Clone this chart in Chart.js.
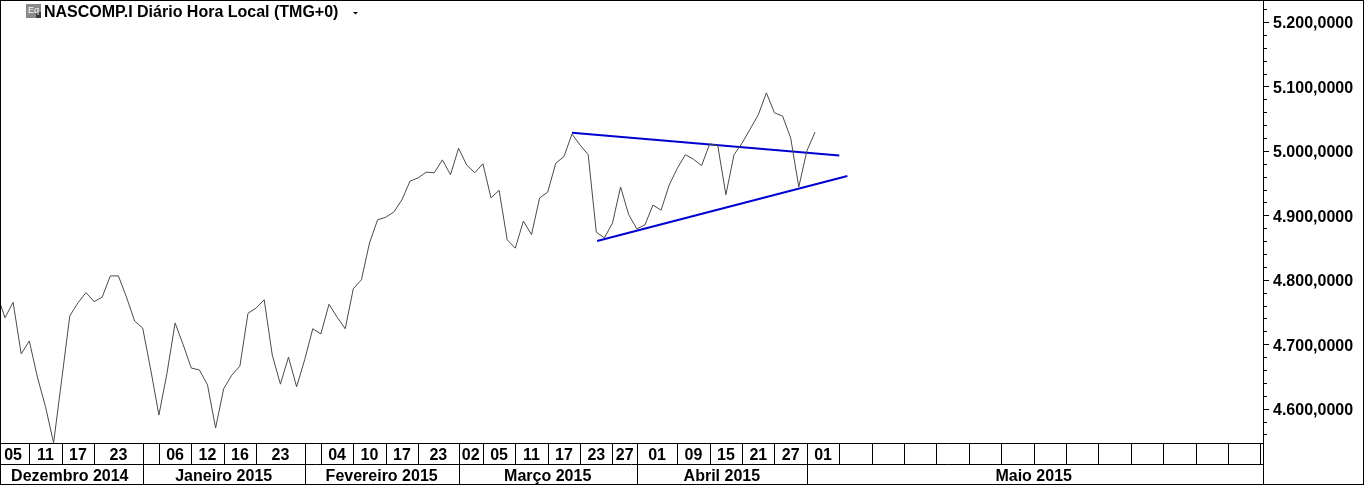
<!DOCTYPE html>
<html>
<head>
<meta charset="utf-8">
<title>NASCOMP.I</title>
<script src="https://cdn.jsdelivr.net/npm/chart.js@4/dist/chart.umd.min.js"></script>
<style>
  html, body { margin: 0; padding: 0; background: #fff; }
  canvas { display: block; }
</style>
</head>
<body>
<canvas id="myChart" width="1364" height="485"></canvas>
<script>
// Fechos diarios, um por barra. A primeira barra fica um pouco fora do grafico (-1)
const firstBar = -1;
const closes = [
    4778, 4741, 4765, 4685, 4705, 4649, 4603, 4547, 4645, 4744,
    4764, 4780, 4766, 4773, 4806, 4806, 4773, 4736, 4725, 4660,
    4590, 4655, 4733, 4699, 4663, 4660, 4637, 4570, 4631, 4652,
    4666, 4748, 4756, 4769, 4683, 4638, 4680, 4634, 4676, 4724,
    4716, 4762, 4742, 4724, 4786, 4800, 4857, 4893, 4897, 4905,
    4924, 4953, 4958, 4967, 4966, 4986, 4963, 5004, 4978, 4966,
    4980, 4927, 4939, 4862, 4849, 4891, 4870, 4927, 4936, 4981,
    4991, 5026, 5009, 4994, 4874, 4865, 4888, 4944, 4901, 4879,
    4885, 4916, 4908, 4947, 4973, 4994, 4987, 4977, 5011, 5008,
    4932, 4994, 5012, 5034, 5056, 5090, 5059, 5054, 5020, 4944,
    5000, 5029
];

// Linhas de tendencia (barra, valor)
const upperTrendBars = [70, 103];
const upperTrendValues = [5028, 4993];
const lowerTrendBars = [73.1, 104];
const lowerTrendValues = [4860, 4961];

// Eixo vertical
const yTickValues = [4600, 4700, 4800, 4900, 5000, 5100, 5200];
const yTickLabels = ['4.600,0000', '4.700,0000', '4.800,0000', '4.900,0000', '5.000,0000', '5.100,0000', '5.200,0000'];

// Eixo do tempo: linha dos dias
const dayLabels = ['05', '11', '17', '23', '', '06', '12', '16', '23', '', '04', '10', '17', '23',
    '02', '05', '11', '17', '23', '27', '01', '09', '15', '21', '27', '01'];
const dayEdges = [-1, 3, 7, 11, 17, 19, 23, 27, 31, 37, 39, 43, 47, 51, 56, 59, 63, 67, 71, 75, 78, 83, 87, 91, 95, 99, 103,
    107, 111, 115, 119, 123, 127, 131, 135, 139, 143, 147, 151, 155];

// Eixo do tempo: linha dos meses
const monthLabels = ['Dezembro 2014', 'Janeiro 2015', 'Fevereiro 2015', 'Março 2015', 'Abril 2015', 'Maio 2015'];
const monthEdges = [-1, 17, 37, 56, 78, 99, 155];

const titleText = 'NASCOMP.I Diário Hora Local (TMG+0)';

const fontName = '"Liberation Sans", Arial, sans-serif';
const boldFont = { family: fontName, size: 16, weight: 'bold' };

function middles(edges, count) {
    let out = [];
    for (let i = 0; i < count; i++) {
        out.push({ value: (edges[i] + edges[i + 1]) / 2 });
    }
    return out;
}

function noPadding(axis) {
    axis.paddingTop = 0;
    axis.paddingBottom = 0;
    axis.paddingLeft = 0;
    axis.paddingRight = 0;
}

// Moldura, celulas do eixo do tempo, marcas do eixo e titulo
const framePlugin = {
    id: 'frame',
    afterDraw(chart) {
        const c = chart.ctx;
        const area = chart.chartArea;
        const xs = chart.scales.x;
        const ys = chart.scales.y;
        const row1 = xs.bottom;
        const row2 = chart.scales.xMonth.bottom;
        c.save();
        c.strokeStyle = '#000';
        c.lineWidth = 1;

        function line(x1, y1, x2, y2) {
            c.beginPath();
            c.moveTo(x1, y1);
            c.lineTo(x2, y2);
            c.stroke();
        }

        line(0, 0.5, 1364, 0.5);
        line(0.5, 0, 0.5, row2);
        line(1363.5, 0, 1363.5, row2);
        line(0, row2 - 0.5, 1364, row2 - 0.5);
        line(area.right + 0.5, 0, area.right + 0.5, row2);
        line(0, area.bottom + 0.5, area.right, area.bottom + 0.5);
        line(0, row1 + 0.5, area.right, row1 + 0.5);

        dayEdges.slice(1).forEach(function (bar) {
            const x = Math.round(xs.getPixelForValue(bar)) + 0.5;
            line(x, area.bottom, x, row1);
        });
        monthEdges.slice(1, -1).forEach(function (bar) {
            const x = Math.round(xs.getPixelForValue(bar)) + 0.5;
            line(x, row1, x, row2);
        });

        // marcas do eixo vertical, de 20 em 20
        for (let v = 4560; v <= 5220; v += 20) {
            const y = Math.round(ys.getPixelForValue(v)) + 0.5;
            line(area.right, y, area.right + (v % 100 === 0 ? 6 : 4), y);
        }

        // icone e titulo
        c.fillStyle = '#8a8a8a';
        c.fillRect(26, 4, 15, 14);
        c.fillStyle = '#3c3c3c';
        c.fillRect(36, 12, 5, 6);
        c.fillStyle = '#fff';
        c.font = '9px ' + fontName;
        c.textBaseline = 'alphabetic';
        c.textAlign = 'left';
        c.fillText('Eq', 28, 13);
        c.fillStyle = '#000';
        c.font = 'bold 16px ' + fontName;
        c.fillText(titleText, 44, 17);
        c.beginPath();
        c.moveTo(353, 12);
        c.lineTo(358, 12);
        c.lineTo(355.5, 14.5);
        c.closePath();
        c.fill();
        c.restore();
    }
};

window.onload = function () {
    setGraph();
};

function setGraph() {
    const ctx = document.getElementById('myChart');
    new Chart(ctx, {
        type: 'line',
        data: {
            datasets: [{
                data: closes.map(function (v, i) { return { x: firstBar + i, y: v }; }),
                borderColor: '#4a4a4a',
                borderWidth: 1,
                pointRadius: 0,
                tension: 0
            }, {
                data: upperTrendBars.map(function (b, i) { return { x: b, y: upperTrendValues[i] }; }),
                borderColor: '#0000d0',
                borderWidth: 2,
                pointRadius: 0
            }, {
                data: lowerTrendBars.map(function (b, i) { return { x: b, y: lowerTrendValues[i] }; }),
                borderColor: '#0000d0',
                borderWidth: 2,
                pointRadius: 0
            }]
        },
        options: {
            responsive: false,
            animation: false,
            layout: { padding: 0 },
            plugins: { legend: { display: false }, tooltip: { enabled: false } },
            scales: {
                y: {
                    position: 'right',
                    min: 4546.7,
                    max: 5234.1,
                    grid: { display: false, drawTicks: false },
                    border: { display: false },
                    afterFit(axis) { axis.width = 101; noPadding(axis); },
                    afterBuildTicks(axis) {
                        axis.ticks = yTickValues.map(function (v) { return { value: v }; });
                    },
                    ticks: {
                        color: '#000',
                        font: boldFont,
                        padding: 10,
                        labelOffset: 2,
                        callback(value) { return yTickLabels[yTickValues.indexOf(value)]; }
                    }
                },
                x: {
                    type: 'linear',
                    position: 'bottom',
                    min: -0.617,
                    max: 155.31,
                    grid: { display: false, drawTicks: false },
                    border: { display: false },
                    afterFit(axis) { axis.height = 21; noPadding(axis); },
                    afterBuildTicks(axis) { axis.ticks = middles(dayEdges, dayLabels.length); },
                    ticks: {
                        color: '#000',
                        font: boldFont,
                        padding: 3,
                        autoSkip: false,
                        maxRotation: 0,
                        callback(value, index) { return dayLabels[index]; }
                    }
                },
                xMonth: {
                    type: 'linear',
                    position: 'bottom',
                    min: -0.617,
                    max: 155.31,
                    grid: { display: false, drawTicks: false },
                    border: { display: false },
                    afterFit(axis) { axis.height = 21; noPadding(axis); },
                    afterBuildTicks(axis) { axis.ticks = middles(monthEdges, monthLabels.length); },
                    ticks: {
                        color: '#000',
                        font: boldFont,
                        padding: 3,
                        autoSkip: false,
                        maxRotation: 0,
                        callback(value, index) { return monthLabels[index]; }
                    }
                }
            }
        },
        plugins: [framePlugin]
    });
}
</script>
</body>
</html>
